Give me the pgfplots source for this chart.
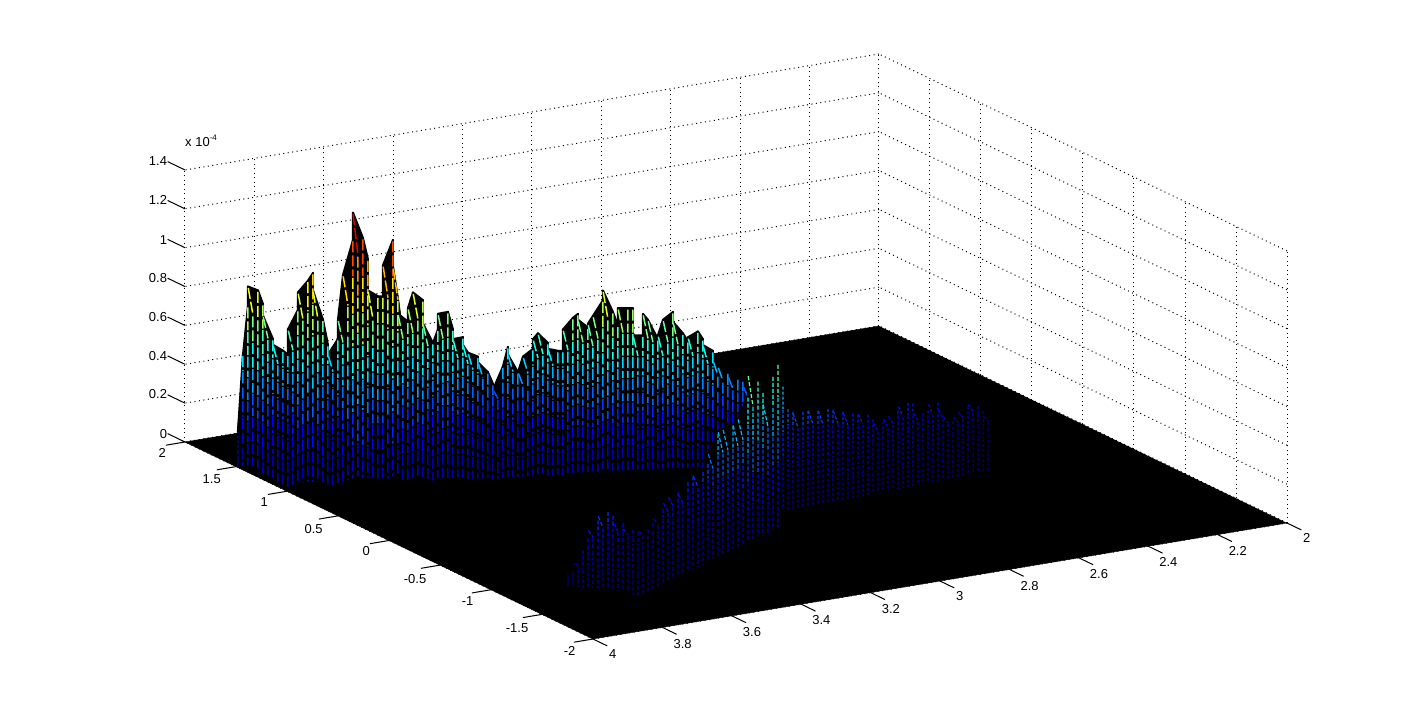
\documentclass[border=0pt]{standalone}
\usepackage{fontspec}
\setmainfont{Liberation Sans}
\usepackage{pgfplots}
\pgfplotsset{compat=1.18}
\pgfplotsset{colormap={allblack}{rgb255(0)=(0,0,0) rgb255(1)=(0,0,0)}}
\newcommand\ia{floor(\coordindex/9)}
\newcommand\da{min(1-0.004*\ia,0.52+0.044*\ia)*3.4*(1.5^mod(\coordindex,9)-1)}
\newcommand\ib{floor(\coordindex/7)}
\newcommand\db{min(1,0.19+0.054*\ib)*8*(1.5^mod(\coordindex,7)-1)}
\newcommand\dc{7.6*(1.5^mod(\coordindex,7)-1)}
% z in units of 1e-6; one line per column of the surface, front rows last
\newcommand\plotA[1]{\addplot3[#1] table[row sep=crcr,
  x expr={3.8689-0.01069*\ia+0.00445*\da}, y expr={1.9264-0.01265*\ia-0.01514*\da}, z=z]{z\\
4\\3\\3\\2\\1\\1\\1\\0\\nan\\
43\\35\\28\\22\\15\\10\\6\\2\\nan\\
68\\56\\44\\34\\24\\16\\9\\3\\nan\\
78\\64\\51\\39\\28\\19\\10\\4\\nan\\
76\\62\\49\\38\\27\\18\\10\\4\\nan\\
69\\57\\45\\35\\25\\17\\9\\3\\nan\\
63\\52\\41\\32\\23\\15\\8\\3\\nan\\
51\\42\\33\\26\\18\\12\\7\\3\\nan\\
48\\39\\31\\24\\17\\12\\6\\2\\nan\\
45\\37\\29\\23\\16\\11\\6\\2\\nan\\
43\\35\\28\\22\\15\\10\\6\\2\\nan\\
56\\46\\36\\28\\20\\13\\7\\3\\nan\\
66\\54\\43\\33\\24\\16\\9\\3\\nan\\
75\\62\\49\\38\\27\\18\\10\\4\\nan\\
81\\66\\53\\41\\29\\19\\11\\4\\nan\\
85\\70\\55\\43\\31\\20\\11\\4\\nan\\
76\\62\\49\\38\\27\\18\\10\\4\\nan\\
61\\50\\40\\31\\22\\15\\8\\3\\nan\\
48\\39\\31\\24\\17\\12\\6\\2\\nan\\
43\\35\\28\\22\\15\\10\\6\\2\\nan\\
51\\42\\33\\26\\18\\12\\7\\3\\nan\\
61\\50\\40\\31\\22\\15\\8\\3\\nan\\
84\\69\\55\\42\\30\\20\\11\\4\\nan\\
102\\84\\66\\51\\37\\24\\13\\5\\nan\\
116\\95\\75\\58\\42\\28\\15\\6\\nan\\
103\\84\\67\\52\\37\\25\\13\\5\\nan\\
92\\75\\60\\46\\33\\22\\12\\5\\nan\\
76\\62\\49\\38\\27\\18\\10\\4\\nan\\
73\\60\\47\\37\\26\\18\\9\\4\\nan\\
73\\60\\47\\37\\26\\18\\9\\4\\nan\\
89\\73\\58\\45\\32\\21\\12\\4\\nan\\
102\\84\\66\\51\\37\\24\\13\\5\\nan\\
88\\72\\57\\44\\32\\21\\11\\4\\nan\\
64\\52\\42\\32\\23\\15\\8\\3\\nan\\
60\\49\\39\\30\\22\\14\\8\\3\\nan\\
67\\55\\44\\34\\24\\16\\9\\3\\nan\\
75\\62\\49\\38\\27\\18\\10\\4\\nan\\
71\\58\\46\\36\\26\\17\\9\\4\\nan\\
59\\48\\38\\30\\21\\14\\8\\3\\nan\\
49\\40\\32\\25\\18\\12\\6\\2\\nan\\
56\\46\\36\\28\\20\\13\\7\\3\\nan\\
64\\52\\42\\32\\23\\15\\8\\3\\nan\\
65\\53\\42\\33\\23\\16\\8\\3\\nan\\
56\\46\\36\\28\\20\\13\\7\\3\\nan\\
51\\42\\33\\26\\18\\12\\7\\3\\nan\\
52\\43\\34\\26\\19\\12\\7\\3\\nan\\
48\\39\\31\\24\\17\\12\\6\\2\\nan\\
44\\36\\29\\22\\16\\11\\6\\2\\nan\\
42\\34\\27\\21\\15\\10\\5\\2\\nan\\
39\\32\\25\\20\\14\\9\\5\\2\\nan\\
34\\28\\22\\17\\12\\8\\4\\2\\nan\\
28\\23\\18\\14\\10\\7\\4\\1\\nan\\
25\\21\\16\\13\\9\\6\\3\\1\\nan\\
37\\30\\24\\19\\13\\9\\5\\2\\nan\\
47\\39\\31\\24\\17\\11\\6\\2\\nan\\
43\\35\\28\\22\\15\\10\\6\\2\\nan\\
34\\28\\22\\17\\12\\8\\4\\2\\nan\\
34\\28\\22\\17\\12\\8\\4\\2\\nan\\
42\\34\\27\\21\\15\\10\\5\\2\\nan\\
46\\38\\30\\23\\17\\11\\6\\2\\nan\\
51\\42\\33\\26\\18\\12\\7\\3\\nan\\
54\\44\\35\\27\\19\\13\\7\\3\\nan\\
49\\40\\32\\25\\18\\12\\6\\2\\nan\\
46\\38\\30\\23\\17\\11\\6\\2\\nan\\
45\\37\\29\\23\\16\\11\\6\\2\\nan\\
45\\37\\29\\23\\16\\11\\6\\2\\nan\\
56\\46\\36\\28\\20\\13\\7\\3\\nan\\
62\\51\\40\\31\\22\\15\\8\\3\\nan\\
64\\52\\42\\32\\23\\15\\8\\3\\nan\\
61\\50\\40\\31\\22\\15\\8\\3\\nan\\
57\\47\\37\\29\\21\\14\\7\\3\\nan\\
59\\48\\38\\30\\21\\14\\8\\3\\nan\\
63\\52\\41\\32\\23\\15\\8\\3\\nan\\
71\\58\\46\\36\\26\\17\\9\\4\\nan\\
76\\62\\49\\38\\27\\18\\10\\4\\nan\\
65\\53\\42\\33\\23\\16\\8\\3\\nan\\
58\\48\\38\\29\\21\\14\\8\\3\\nan\\
67\\55\\44\\34\\24\\16\\9\\3\\nan\\
67\\55\\44\\34\\24\\16\\9\\3\\nan\\
67\\55\\44\\34\\24\\16\\9\\3\\nan\\
53\\43\\34\\27\\19\\13\\7\\3\\nan\\
53\\43\\34\\27\\19\\13\\7\\3\\nan\\
64\\52\\42\\32\\23\\15\\8\\3\\nan\\
61\\50\\40\\31\\22\\15\\8\\3\\nan\\
51\\42\\33\\26\\18\\12\\7\\3\\nan\\
53\\43\\34\\27\\19\\13\\7\\3\\nan\\
61\\50\\40\\31\\22\\15\\8\\3\\nan\\
65\\53\\42\\33\\23\\16\\8\\3\\nan\\
60\\49\\39\\30\\22\\14\\8\\3\\nan\\
54\\44\\35\\27\\19\\13\\7\\3\\nan\\
50\\41\\33\\25\\18\\12\\7\\3\\nan\\
52\\43\\34\\26\\19\\12\\7\\3\\nan\\
55\\45\\36\\28\\20\\13\\7\\3\\nan\\
51\\42\\33\\26\\18\\12\\7\\3\\nan\\
48\\39\\31\\24\\17\\12\\6\\2\\nan\\
45\\37\\29\\23\\16\\11\\6\\2\\nan\\
40\\33\\26\\20\\14\\10\\5\\2\\nan\\
37\\30\\24\\19\\13\\9\\5\\2\\nan\\
34\\28\\22\\17\\12\\8\\4\\2\\nan\\
32\\26\\21\\16\\12\\8\\4\\2\\nan\\
31\\25\\20\\16\\11\\7\\4\\2\\nan\\
30\\25\\20\\15\\11\\7\\4\\2\\nan\\
27\\22\\18\\14\\10\\6\\4\\1\\nan\\
};}
\newcommand\plotB[1]{\addplot3[#1] table[row sep=crcr,
  x expr={3.7838-0.02053*\ib+0.00445*\db}, y expr={-0.970+0.02081*\ib-0.01514*\db}, z=z]{z\\
nan\\nan\\nan\\nan\\nan\\nan\\nan\\
1\\1\\1\\0\\0\\0\\nan\\
1\\1\\1\\0\\0\\0\\nan\\
4\\3\\2\\1\\1\\0\\nan\\
9\\7\\5\\3\\1\\0\\nan\\
14\\11\\7\\4\\2\\1\\nan\\
18\\14\\9\\6\\3\\1\\nan\\
21\\16\\11\\7\\3\\1\\nan\\
23\\17\\12\\7\\4\\1\\nan\\
23\\17\\12\\7\\4\\1\\nan\\
20\\15\\10\\6\\3\\1\\nan\\
16\\12\\8\\5\\3\\1\\nan\\
14\\11\\7\\4\\2\\1\\nan\\
11\\8\\6\\4\\2\\1\\nan\\
8\\6\\4\\3\\1\\0\\nan\\
6\\5\\3\\2\\1\\0\\nan\\
6\\5\\3\\2\\1\\0\\nan\\
5\\4\\3\\2\\1\\0\\nan\\
7\\5\\4\\2\\1\\0\\nan\\
9\\7\\5\\3\\1\\0\\nan\\
12\\9\\6\\4\\2\\1\\nan\\
15\\11\\8\\5\\2\\1\\nan\\
17\\13\\9\\5\\3\\1\\nan\\
17\\13\\9\\5\\3\\1\\nan\\
16\\12\\8\\5\\3\\1\\nan\\
20\\15\\10\\6\\3\\1\\nan\\
22\\17\\11\\7\\4\\1\\nan\\
22\\17\\11\\7\\4\\1\\nan\\
22\\17\\11\\7\\4\\1\\nan\\
25\\19\\13\\8\\4\\1\\nan\\
30\\23\\16\\10\\5\\2\\nan\\
38\\29\\20\\12\\6\\2\\nan\\
39\\29\\20\\12\\6\\2\\nan\\
39\\29\\20\\12\\6\\2\\nan\\
39\\29\\20\\12\\6\\2\\nan\\
39\\29\\20\\12\\6\\2\\nan\\
41\\31\\21\\13\\7\\2\\nan\\
50\\38\\26\\16\\8\\3\\nan\\
61\\46\\32\\20\\10\\3\\nan\\
56\\42\\29\\18\\9\\3\\nan\\
49\\37\\25\\16\\8\\2\\nan\\
43\\32\\22\\14\\7\\2\\nan\\
55\\41\\29\\18\\9\\3\\nan\\
60\\45\\31\\19\\10\\3\\nan\\
};}
\newcommand\plotC[1]{\addplot3[#1] table[row sep=crcr,
  x expr={2.8149-0.0151*\ib+0.00445*\dc}, y expr={0.1687+0.00233*\ib-0.01514*\dc}, z=z]{z\\
40\\30\\21\\13\\6\\2\\nan\\
28\\21\\15\\9\\4\\1\\nan\\
26\\20\\14\\8\\4\\1\\nan\\
25\\19\\13\\8\\4\\1\\nan\\
25\\19\\13\\8\\4\\1\\nan\\
25\\19\\13\\8\\4\\1\\nan\\
25\\19\\13\\8\\4\\1\\nan\\
24\\18\\12\\8\\4\\1\\nan\\
24\\18\\12\\8\\4\\1\\nan\\
24\\18\\12\\8\\4\\1\\nan\\
23\\17\\12\\7\\4\\1\\nan\\
22\\17\\11\\7\\4\\1\\nan\\
21\\16\\11\\7\\3\\1\\nan\\
20\\15\\10\\6\\3\\1\\nan\\
19\\14\\10\\6\\3\\1\\nan\\
18\\14\\9\\6\\3\\1\\nan\\
18\\14\\9\\6\\3\\1\\nan\\
17\\13\\9\\5\\3\\1\\nan\\
14\\11\\7\\4\\2\\1\\nan\\
12\\9\\6\\4\\2\\1\\nan\\
12\\9\\6\\4\\2\\1\\nan\\
13\\10\\7\\4\\2\\1\\nan\\
14\\11\\7\\4\\2\\1\\nan\\
16\\12\\8\\5\\3\\1\\nan\\
18\\14\\9\\6\\3\\1\\nan\\
19\\14\\10\\6\\3\\1\\nan\\
18\\14\\9\\6\\3\\1\\nan\\
13\\10\\7\\4\\2\\1\\nan\\
12\\9\\6\\4\\2\\1\\nan\\
13\\10\\7\\4\\2\\1\\nan\\
16\\12\\8\\5\\3\\1\\nan\\
16\\12\\8\\5\\3\\1\\nan\\
12\\9\\6\\4\\2\\1\\nan\\
8\\6\\4\\3\\1\\0\\nan\\
5\\4\\3\\2\\1\\0\\nan\\
7\\5\\4\\2\\1\\0\\nan\\
9\\7\\5\\3\\1\\0\\nan\\
11\\8\\6\\4\\2\\1\\nan\\
12\\9\\6\\4\\2\\1\\nan\\
10\\8\\5\\3\\2\\1\\nan\\
7\\5\\4\\2\\1\\0\\nan\\
4\\3\\2\\1\\1\\0\\nan\\
nan\\nan\\nan\\nan\\nan\\nan\\nan\\
nan\\nan\\nan\\nan\\nan\\nan\\nan\\
nan\\nan\\nan\\nan\\nan\\nan\\nan\\
nan\\nan\\nan\\nan\\nan\\nan\\nan\\
};}
\pgfplotsset{
  backing/.style={surf, shader=flat, colormap name=allblack, line width=2pt, line join=round, z buffer=none, unbounded coords=jump, forget plot},
  streak/.style={mesh, colormap/jet, point meta=z, line width=1.5pt, z buffer=none, unbounded coords=jump, forget plot},
}
\begin{document}
\begin{tikzpicture}
\begin{axis}[
    x dir=reverse,
    x={(347pt,58pt)}, y={(-102pt,49.25pt)}, z={(0pt,1.943pt)},
    xmin=2, xmax=4, ymin=-2, ymax=2, zmin=0, zmax=140,
    xtick={2,2.2,...,4.01}, xticklabels={2,2.2,2.4,2.6,2.8,3,3.2,3.4,3.6,3.8,4},
    ytick={-2,-1.5,...,2}, yticklabels={-2,-1.5,-1,-0.5,0,0.5,1,1.5,2},
    ztick={0,20,...,140}, zticklabels={0,0.2,0.4,0.6,0.8,1,1.2,1.4},
    grid=major,
    grid style={black, line width=1pt, dash pattern=on 1pt off 3.5pt},
    axis line style={draw=none},
    tick align=outside, tick pos=left,
    major tick length=16pt,
    tick style={draw=none},
    tick label style={font=\fontsize{13}{15}\selectfont},
    colormap/jet, point meta min=0, point meta max=116,
    clip=false,
]
\addplot3[draw=black, fill=black, forget plot] coordinates {(2,-2,0) (4,-2,0) (4,2,0) (2,2,0)};
% ticks
\addplot3[black, line width=1pt, unbounded coords=jump, forget plot] coordinates {
(2,-2,0)(2,-2.14,0)(nan,nan,nan)(2.2,-2,0)(2.2,-2.14,0)(nan,nan,nan)(2.4,-2,0)(2.4,-2.14,0)(nan,nan,nan)
(2.6,-2,0)(2.6,-2.14,0)(nan,nan,nan)(2.8,-2,0)(2.8,-2.14,0)(nan,nan,nan)(3,-2,0)(3,-2.14,0)(nan,nan,nan)
(3.2,-2,0)(3.2,-2.14,0)(nan,nan,nan)(3.4,-2,0)(3.4,-2.14,0)(nan,nan,nan)(3.6,-2,0)(3.6,-2.14,0)(nan,nan,nan)
(3.8,-2,0)(3.8,-2.14,0)(nan,nan,nan)(4,-2,0)(4,-2.14,0)(nan,nan,nan)
(4,-2,0)(4.055,-2,0)(nan,nan,nan)(4,-1.5,0)(4.055,-1.5,0)(nan,nan,nan)(4,-1,0)(4.055,-1,0)(nan,nan,nan)
(4,-0.5,0)(4.055,-0.5,0)(nan,nan,nan)(4,0,0)(4.055,0,0)(nan,nan,nan)(4,0.5,0)(4.055,0.5,0)(nan,nan,nan)
(4,1,0)(4.055,1,0)(nan,nan,nan)(4,1.5,0)(4.055,1.5,0)(nan,nan,nan)(4,2,0)(4.055,2,0)(nan,nan,nan)
(4,2,0)(4,2.17,0)(nan,nan,nan)(4,2,20)(4,2.17,20)(nan,nan,nan)(4,2,40)(4,2.17,40)(nan,nan,nan)
(4,2,60)(4,2.17,60)(nan,nan,nan)(4,2,80)(4,2.17,80)(nan,nan,nan)(4,2,100)(4,2.17,100)(nan,nan,nan)
(4,2,120)(4,2.17,120)(nan,nan,nan)(4,2,140)(4,2.17,140)
};
\plotA{backing, mesh/rows=103, mesh/cols=9}
\plotA{streak, dash pattern=on 11pt off 3pt, dash phase=12.5pt}
\plotC{backing, mesh/rows=46, mesh/cols=7}
\plotC{streak, line width=1.2pt, dash pattern=on 3pt off 2pt, dash phase=4pt}
\plotB{backing, mesh/rows=44, mesh/cols=7}
\plotB{streak, line width=1.2pt, dash pattern=on 4pt off 2pt, dash phase=5pt}
\node[anchor=south west, font=\fontsize{13}{15}\selectfont, inner sep=0pt] at (axis cs:4,2,152) {x 10\raisebox{6pt}{\fontsize{8}{9}\selectfont -4}};
\coordinate (F) at (axis cs:4,-2,0);
\end{axis}
\pgfresetboundingbox
\path[use as bounding box] ([shift={(-593pt,-78pt)}]F) rectangle ([shift={(830pt,639pt)}]F);
\end{tikzpicture}
\end{document}
